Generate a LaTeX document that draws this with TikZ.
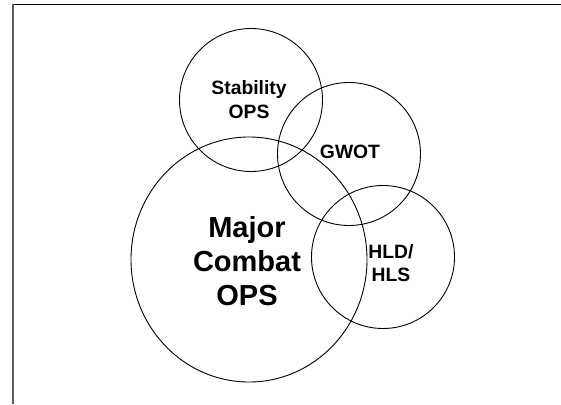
\documentclass[tikz,border=0pt]{standalone}
\usepackage{fontspec}
\setmainfont{Liberation Sans}
\usetikzlibrary{shapes.geometric}
\definecolor{framegray}{RGB}{90,90,90}
\tikzset{
  ring/.style={draw=black, line width=0.9pt, circle, inner sep=0pt, minimum size=143pt},
  bigring/.style={draw=black, line width=0.9pt, ellipse, inner sep=0pt, minimum width=236pt, minimum height=245pt},
  smalllabel/.style={align=center, inner sep=0pt, font=\bfseries\fontsize{19.3}{23.3}\selectfont},
  biglabel/.style={align=center, inner sep=0pt, font=\bfseries\fontsize{29}{34.3}\selectfont}
}
\begin{document}
\begin{tikzpicture}[x=1pt, y=-1pt]
\useasboundingbox (0,0) rectangle (561,404);
% frame
\draw[black, line width=1.8pt] (12,4.5) -- (561,4.5);
\draw[framegray, line width=2pt] (13,4) -- (13,404);
% circles
\node[bigring] (major) at (249,259.5) {};
\node[ring] (stab) at (251,100) {};
\node[ring] (gwot) at (349,154) {};
\node[ring] (hld) at (383,257) {};
% labels
\node[smalllabel] (stabt) at (249,99.6) {Stability\\OPS};
\node[smalllabel] (gwott) at (350,151.5) {GWOT};
\node[smalllabel] (hldt) at (391,263) {HLD/\\HLS};
\node[biglabel] (majort) at (247,261) {Major\\Combat\\OPS};
\end{tikzpicture}
\end{document}
